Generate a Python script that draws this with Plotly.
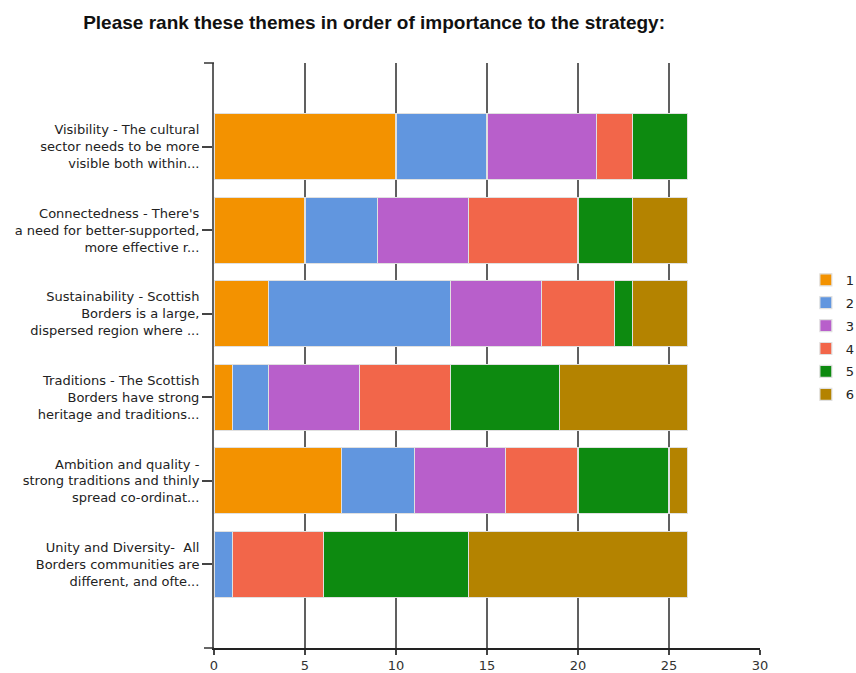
import plotly.graph_objects as go

categories = [
    "Visibility - The cultural<br>sector needs to be more<br>visible both within...",
    "Connectedness - There's<br>a need for better-supported,<br>more effective r...",
    "Sustainability - Scottish<br>Borders is a large,<br>dispersed region where ...",
    "Traditions - The Scottish<br>Borders have strong<br>heritage and traditions...",
    "Ambition and quality -<br>strong traditions and thinly<br>spread co-ordinat...",
    "Unity and Diversity-  All<br>Borders communities are<br>different, and ofte...",
]
series_names = ["1", "2", "3", "4", "5", "6"]
rank1 = [10, 5, 3, 1, 7, 0]
rank2 = [5, 4, 10, 2, 4, 1]
rank3 = [6, 5, 5, 5, 5, 0]
rank4 = [2, 6, 4, 5, 4, 5]
rank5 = [3, 3, 1, 6, 5, 8]
rank6 = [0, 3, 3, 7, 1, 12]
series_values = [rank1, rank2, rank3, rank4, rank5, rank6]
colors = ["#F39200", "#6196DF", "#B85FCB", "#F2664A", "#0D8A10", "#B48300"]
x_ticks = [0, 5, 10, 15, 20, 25, 30]

fig = go.Figure()
for name, vals, col in zip(series_names, series_values, colors):
    fig.add_trace(go.Bar(
        y=categories, x=vals, name=name, orientation="h",
        marker=dict(color=col, line=dict(color="#E0E0E0", width=1.2)),
        legendgroup=name,
    ))

fig.update_layout(
    barmode="stack",
    bargap=0.21,
    width=856, height=673,
    margin=dict(l=214, r=96, t=63, b=25, autoexpand=False),
    paper_bgcolor="white", plot_bgcolor="white",
    font=dict(family="DejaVu Sans, sans-serif", size=13, color="#222"),
    title=dict(
        text="<b>Please rank these themes in order of importance to the strategy:</b>",
        x=0.437, xanchor="center", xref="container",
        y=0.967, yanchor="middle", yref="container",
        font=dict(size=19, color="#111", family="Liberation Sans, Arial, sans-serif"),
    ),
    legend=dict(
        x=1.084, xanchor="left", y=0.655, yanchor="top",
        font=dict(size=13, color="#222"),
        tracegroupgap=3, traceorder="grouped",
        bgcolor="rgba(0,0,0,0)",
    ),
    showlegend=True,
)
fig.update_xaxes(
    range=[0, 30], tickvals=x_ticks, showgrid=True, gridcolor="#606060", gridwidth=1.5,
    showline=True, linecolor="#222", linewidth=1.5,
    ticks="outside", ticklen=5, tickcolor="#444", tickwidth=1.5,
    zeroline=False, tickfont=dict(size=13, color="#333"),
)
fig.update_yaxes(
    categoryorder="array", categoryarray=categories, range=[6, -1],
    autorange=False,
    showline=True, linecolor="#606060", linewidth=2,
    ticks="outside", ticklen=10, tickcolor="#444", tickwidth=1.5,
    showgrid=False, tickfont=dict(size=13, color="#222"),
)
# boundary ticks on the y axis (top and bottom)
for yy in (0, 1):
    fig.add_shape(type="line", xref="paper", yref="paper",
                  x0=-10 / 546, x1=0, y0=yy, y1=yy,
                  line=dict(color="#333", width=1.5))

fig.write_html("out.html")
